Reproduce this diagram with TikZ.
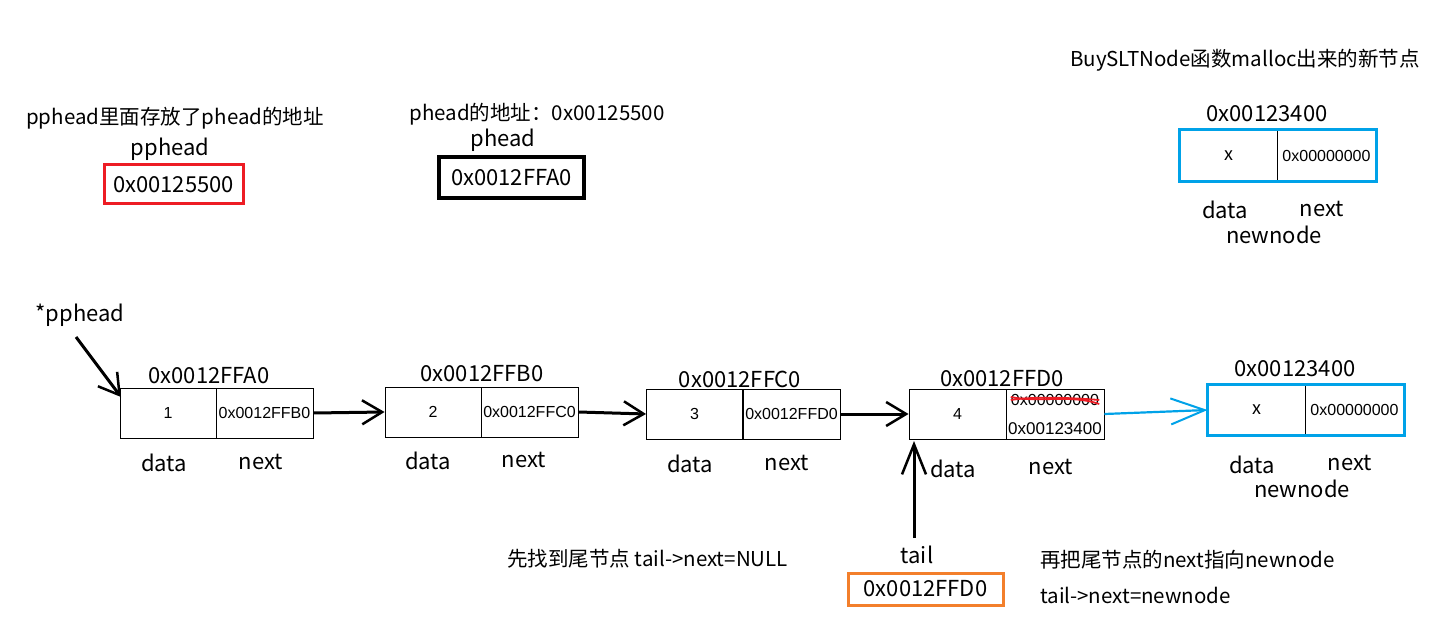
\documentclass[tikz,border=0pt]{standalone}
\usepackage{fontspec}
\setmainfont{Noto Sans CJK SC}
\newfontfamily\cellfont{Liberation Sans}
\usetikzlibrary{arrows.meta}
\definecolor{pred}{HTML}{ED1C24}
\definecolor{pblue}{HTML}{00A2E8}
\definecolor{porange}{HTML}{F37F2B}
\begin{document}
\begin{tikzpicture}[x=1pt,y=-1pt,
  lbl/.style={font=\fontsize{20.5}{22}\selectfont, inner sep=0pt},
  addr/.style={font=\fontsize{22}{24}\selectfont, inner sep=0pt},
  cell/.style={draw=black, line width=0.9pt, minimum height=50pt, inner sep=0pt, font=\cellfont\fontsize{16}{18}\selectfont},
  dcell/.style={cell, minimum width=96pt},
  ncell/.style={cell, minimum width=97pt},
  arr/.style={line width=3pt, -{Straight Barb[length=20pt,width=24pt,line width=2.5pt]}},
  tailarr/.style={line width=3pt, -{Straight Barb[length=30pt,width=24pt,line width=2.5pt]}},
  bluearr/.style={pblue, line width=2.2pt, -{Straight Barb[length=34pt,width=26pt,line width=2pt]}},
  abox/.style={draw, inner sep=0pt, font=\fontsize{22}{24}\selectfont}
]
\useasboundingbox[fill=white] (0,0) rectangle (1435,636);

% top-left pphead
\node[lbl] (t1) at (175,118) {pphead里面存放了phead的地址};
\node[addr] (t2) at (170,149) {pphead};
\node[abox, draw=pred, line width=3pt, minimum width=139pt, minimum height=39pt] (ppbox) at (173.5,184.5) {0x00125500};

% phead
\node[lbl] (t3) at (537,114) {phead的地址：0x00125500};
\node[addr] (t4) at (503,140) {phead};
\node[abox, draw=black, line width=3.2pt, minimum width=145pt, minimum height=41pt] (pbox) at (511.5,177.5) {0x0012FFA0};

% new node (top right)
\node[lbl] (t5) at (1245,60) {BuySLTNode函数malloc出来的新节点};
\node[addr] (a0) at (1267,114) {0x00123400};
\node[dcell, minimum width=97pt, minimum height=51pt, font=\fontsize{18}{20}\selectfont] (m0d) at (1228.5,155.5) {x};
\node[ncell, minimum width=99pt, minimum height=51pt] (m0n) at (1326.5,155.5) {0x00000000};
\draw[pblue, line width=3pt] (m0d.north west) rectangle (m0n.south east);
\node[addr] (m0l1) at (1225,210) {data};
\node[addr] (m0l2) at (1322,209) {next};
\node[addr] (m0l3) at (1274,235) {newnode};

% list
\node[addr] (pp) at (80,315) {*pphead};
\coordinate (ppa) at (76,337);
\coordinate (ppb) at (121,397);

\node[addr] (a1) at (209,376) {0x0012FFA0};
\node[dcell] (n1d) at (168,413) {1};
\node[ncell] (n1n) at (264.5,413) {0x0012FFB0};
\node[addr] (l1a) at (164,463) {data};
\node[addr] (l1b) at (261,462) {next};

\node[addr] (a2) at (482,374) {0x0012FFB0};
\node[dcell] (n2d) at (433,412) {2};
\node[ncell] (n2n) at (529.5,412) {0x0012FFC0};
\node[addr] (l2a) at (428,461) {data};
\node[addr] (l2b) at (524,460) {next};

\node[addr] (a3) at (740,379) {0x0012FFC0};
\node[dcell] (n3d) at (694.5,414) {3};
\node[ncell] (n3n) at (791.5,414) {0x0012FFD0};
\node[addr] (l3a) at (690,464) {data};
\node[addr] (l3b) at (787,463) {next};

\node[addr] (a4) at (1002,379) {0x0012FFD0};
\node[dcell, minimum width=97pt] (n4d) at (957.5,414) {4};
\node[ncell, minimum width=98pt] (n4n) at (1055,414) {};
\node[inner sep=0pt, font=\cellfont\fontsize{16}{18}\selectfont] (old) at (1055,400) {0x00000000};
\node[inner sep=0pt, font=\cellfont\fontsize{17}{18}\selectfont] (new) at (1055,429) {0x00123400};
\draw[pred, line width=1.8pt] (old.west) .. controls (1035,396) and (1075,398) .. (old.east);
\draw[pred, line width=1.8pt] ([yshift=3pt]old.west) .. controls (1040,403) and (1070,394) .. ([yshift=-4pt]old.east);
\node[addr] (l4a) at (953,469) {data};
\node[addr] (l4b) at (1051,467) {next};

\node[addr] (a5) at (1295,369) {0x00123400};
\node[dcell, minimum width=97pt, font=\fontsize{18}{20}\selectfont] (n5d) at (1256.5,410) {x};
\node[ncell, minimum width=99pt] (n5n) at (1354.5,410) {0x00000000};
\draw[pblue, line width=3pt] (n5d.north west) rectangle (n5n.south east);
\node[addr] (l5a) at (1252,465) {data};
\node[addr] (l5b) at (1350,463) {next};
\node[addr] (l5c) at (1302,489) {newnode};

% connectors
\draw[arr] (ppa) -- (ppb);
\draw[arr] (n1n.east) -- (n2d.west);
\draw[arr] (n2n.east) -- (n3d.west);
\draw[arr] (n3n.east) -- (n4d.west);
\draw[bluearr] (n4n.east) -- (n5d.west);

% tail
\node[addr] (tail) at (917,555) {tail};
\coordinate (tailtop) at (914,538);
\coordinate (tailend) at (914,441);
\draw[tailarr] (tailtop) -- (tailend);
\node[abox, draw=porange, line width=3pt, minimum width=155pt, minimum height=32pt] (tbox) at (925.5,589) {0x0012FFD0};

\node[lbl, anchor=west] (c1) at (507,559) {先找到尾节点 tail->next=NULL};
\node[lbl, anchor=west] (c2) at (1040,560) {再把尾节点的next指向newnode};
\node[lbl, anchor=west] (c3) at (1040,595) {tail->next=newnode};
\end{tikzpicture}
\end{document}
